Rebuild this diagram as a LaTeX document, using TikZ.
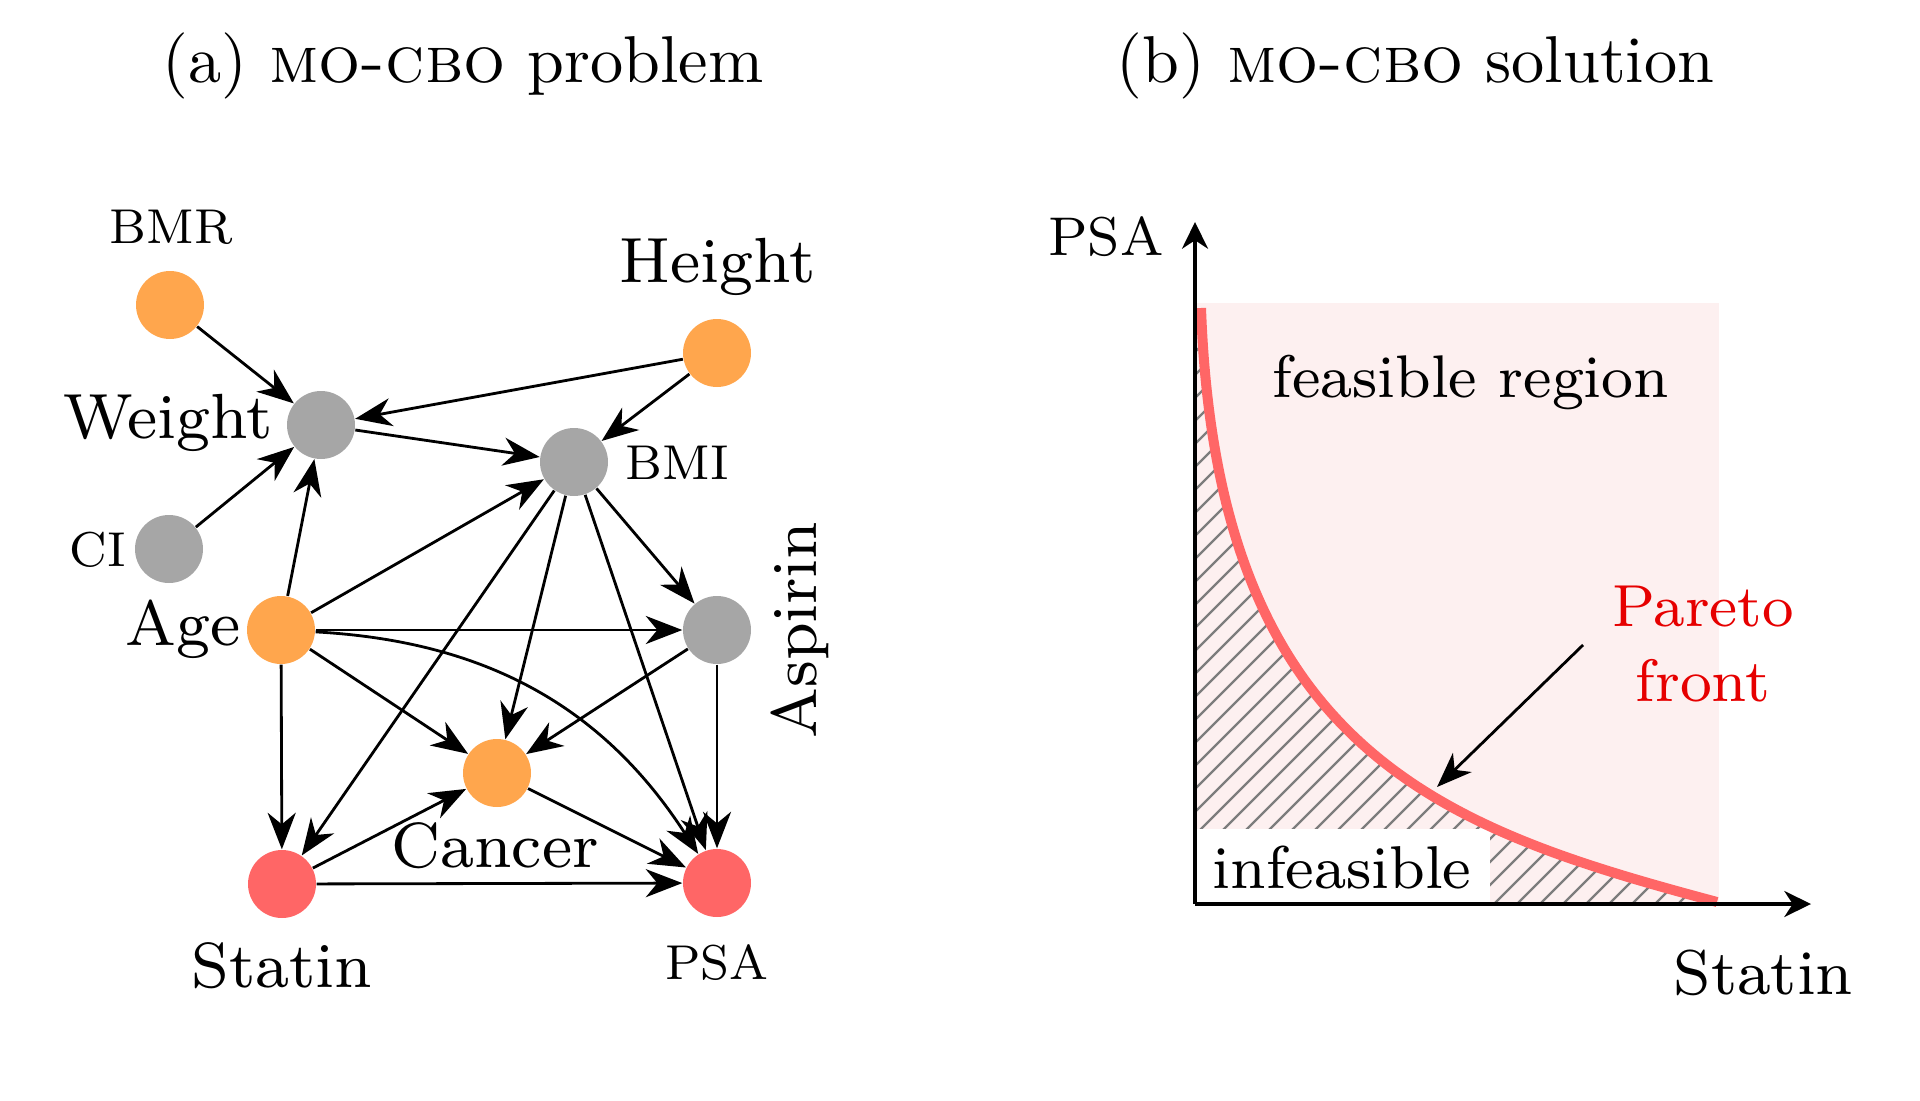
\documentclass[tikz,border=0pt]{standalone}
\usepackage{graphicx}
\usetikzlibrary{arrows.meta}
\definecolor{corange}{RGB}{255,166,77}
\definecolor{cgray}{RGB}{166,166,166}
\definecolor{cred}{RGB}{255,102,102}
\definecolor{cpink}{RGB}{253,240,240}
\definecolor{chatch}{RGB}{125,125,125}
\definecolor{ctext}{RGB}{230,0,0}
\newcommand{\bigtxt}[1]{\scalebox{2.27}{\fontsize{8}{10}\selectfont #1}}
\newcommand{\smalltxt}[1]{\scalebox{1.74}{\fontsize{8}{10}\selectfont #1}}
\newcommand{\ttltxt}[1]{\scalebox{1.885}{\fontsize{10}{12}\selectfont #1}}
\newcommand{\rtxt}[2]{\scalebox{#1}{\fontsize{8}{10}\selectfont #2}}
\begin{document}
\begin{tikzpicture}[
  vtx/.style={circle, minimum size=0.68cm, inner sep=0pt, draw=none},
  orangev/.style={vtx, fill=corange},
  grayv/.style={vtx, fill=cgray},
  redv/.style={vtx, fill=cred},
  edge/.style={-{Stealth[length=10.4pt,width=8pt,inset=3.3pt]}, line width=0.8pt},
  lbl/.style={inner sep=0pt, anchor=base},
  axis/.style={-{Stealth[length=7.6pt,width=7.4pt,inset=2.4pt]}, line width=0.95pt},
  hatch/.style={draw=chatch, line width=0.65pt},
]
\useasboundingbox (0,0) rectangle (19.2,-11);

% titles
\node[lbl] (ta) at (4.63,-0.83) {\ttltxt{(a) \textsc{mo-cbo} problem}};
\node[lbl] (tb) at (14.155,-0.83) {\ttltxt{(b) \textsc{mo-cbo} solution}};

% ---------------- panel (a) ----------------
\node[orangev] (bmr) at (1.70,-3.05) {};
\node[orangev] (height) at (7.17,-3.53) {};
\node[grayv] (weight) at (3.21,-4.25) {};
\node[grayv] (bmi) at (5.74,-4.62) {};
\node[grayv] (ci) at (1.69,-5.49) {};
\node[orangev] (age) at (2.81,-6.30) {};
\node[grayv] (aspirin) at (7.17,-6.30) {};
\node[orangev] (cancer) at (4.97,-7.73) {};
\node[redv] (statin) at (2.82,-8.84) {};
\node[redv] (psa) at (7.17,-8.83) {};

\node[lbl] (lbmr) at (1.71,-2.43) {\smalltxt{BMR}};
\node[lbl] (lheight) at (7.175,-2.82) {\bigtxt{Height}};
\node[lbl, anchor=base east] (lweight) at (2.73,-4.38) {\bigtxt{Weight}};
\node[lbl, anchor=base west] (lbmi) at (6.25,-4.79) {\smalltxt{BMI}};
\node[lbl, anchor=base east] (lci) at (1.265,-5.66) {\smalltxt{CI}};
\node[lbl, anchor=base east] (lage) at (2.41,-6.45) {\bigtxt{Age}};
\node[lbl, rotate=90] (laspirin) at (8.16,-6.30) {\bigtxt{Aspirin}};
\node[lbl] (lcancer) at (4.95,-8.67) {\bigtxt{Cancer}};
\node[lbl] (lstatin) at (2.82,-9.87) {\bigtxt{Statin}};
\node[lbl] (lpsa) at (7.17,-9.79) {\smalltxt{PSA}};

\draw[edge] (bmr) -- (weight);
\draw[edge] (height) -- (weight);
\draw[edge] (height) -- (bmi);
\draw[edge] (weight) -- (bmi);
\draw[edge] (ci) -- (weight);
\draw[edge] (age) -- (weight);
\draw[edge] (age) -- (bmi);
\draw[edge] (age) -- (aspirin);
\draw[edge] (age) -- (cancer);
\draw[edge] (age) -- (statin);
\draw[edge] (age) to[bend left=27] (psa);
\draw[edge] (bmi) -- (aspirin);
\draw[edge] (bmi) -- (cancer);
\draw[edge] (bmi) -- (statin);
\draw[edge] (bmi) -- (psa);
\draw[edge] (aspirin) -- (cancer);
\draw[edge] (aspirin) -- (psa);
\draw[edge] (statin) -- (cancer);
\draw[edge] (statin) -- (psa);
\draw[edge] (cancer) -- (psa);

% ---------------- panel (b) ----------------
\coordinate (O) at (11.95,-9.04);
\coordinate (ytip) at (11.95,-2.22);
\coordinate (xtip) at (18.11,-9.04);
\coordinate (c0) at (12.01,-3.08);
\coordinate (c3) at (17.17,-9.02);

\fill[cpink] (11.95,-3.03) rectangle (17.19,-9.04);

\begin{scope}
  \clip (O) -- (11.95,-3.08) -- (c0) .. controls (12.17,-7.54) and (14.45,-8.29) .. (c3) -- (17.17,-9.04) -- cycle;
  \foreach \k in {-30,...,24} {
    \draw[hatch] ({11.95+\k*0.23},-9.04) -- ++(7,7);
  }
\end{scope}

\node[lbl, fill=white, inner xsep=0.18cm, inner ysep=0.17cm] (infeas) at (13.42,-8.885) {\rtxt{2.15}{infeasible}};

\draw[cred, line width=0.1cm] (c0) .. controls (12.17,-7.54) and (14.45,-8.29) .. (c3);

\draw[axis] (O) -- (ytip);
\draw[axis] (O) -- (xtip);

\node[lbl] (ypsa) at (11.06,-2.556) {\rtxt{1.94}{PSA}};
\node[lbl] (xstatin) at (17.635,-9.94) {\rtxt{2.25}{Statin}};
\node[lbl] (feas) at (14.71,-3.975) {\rtxt{2.14}{feasible region}};
\node[lbl, text=ctext] (pareto) at (17.03,-6.267) {\rtxt{2.11}{Pareto}};
\node[lbl, text=ctext] (front) at (17.03,-7.016) {\rtxt{2.13}{front}};

\coordinate (parA) at (15.83,-6.45);
\coordinate (parB) at (14.37,-7.87);
\draw[-{Stealth[length=10pt,width=7.6pt,inset=3pt]}, line width=0.8pt] (parA) -- (parB);
\end{tikzpicture}
\end{document}
